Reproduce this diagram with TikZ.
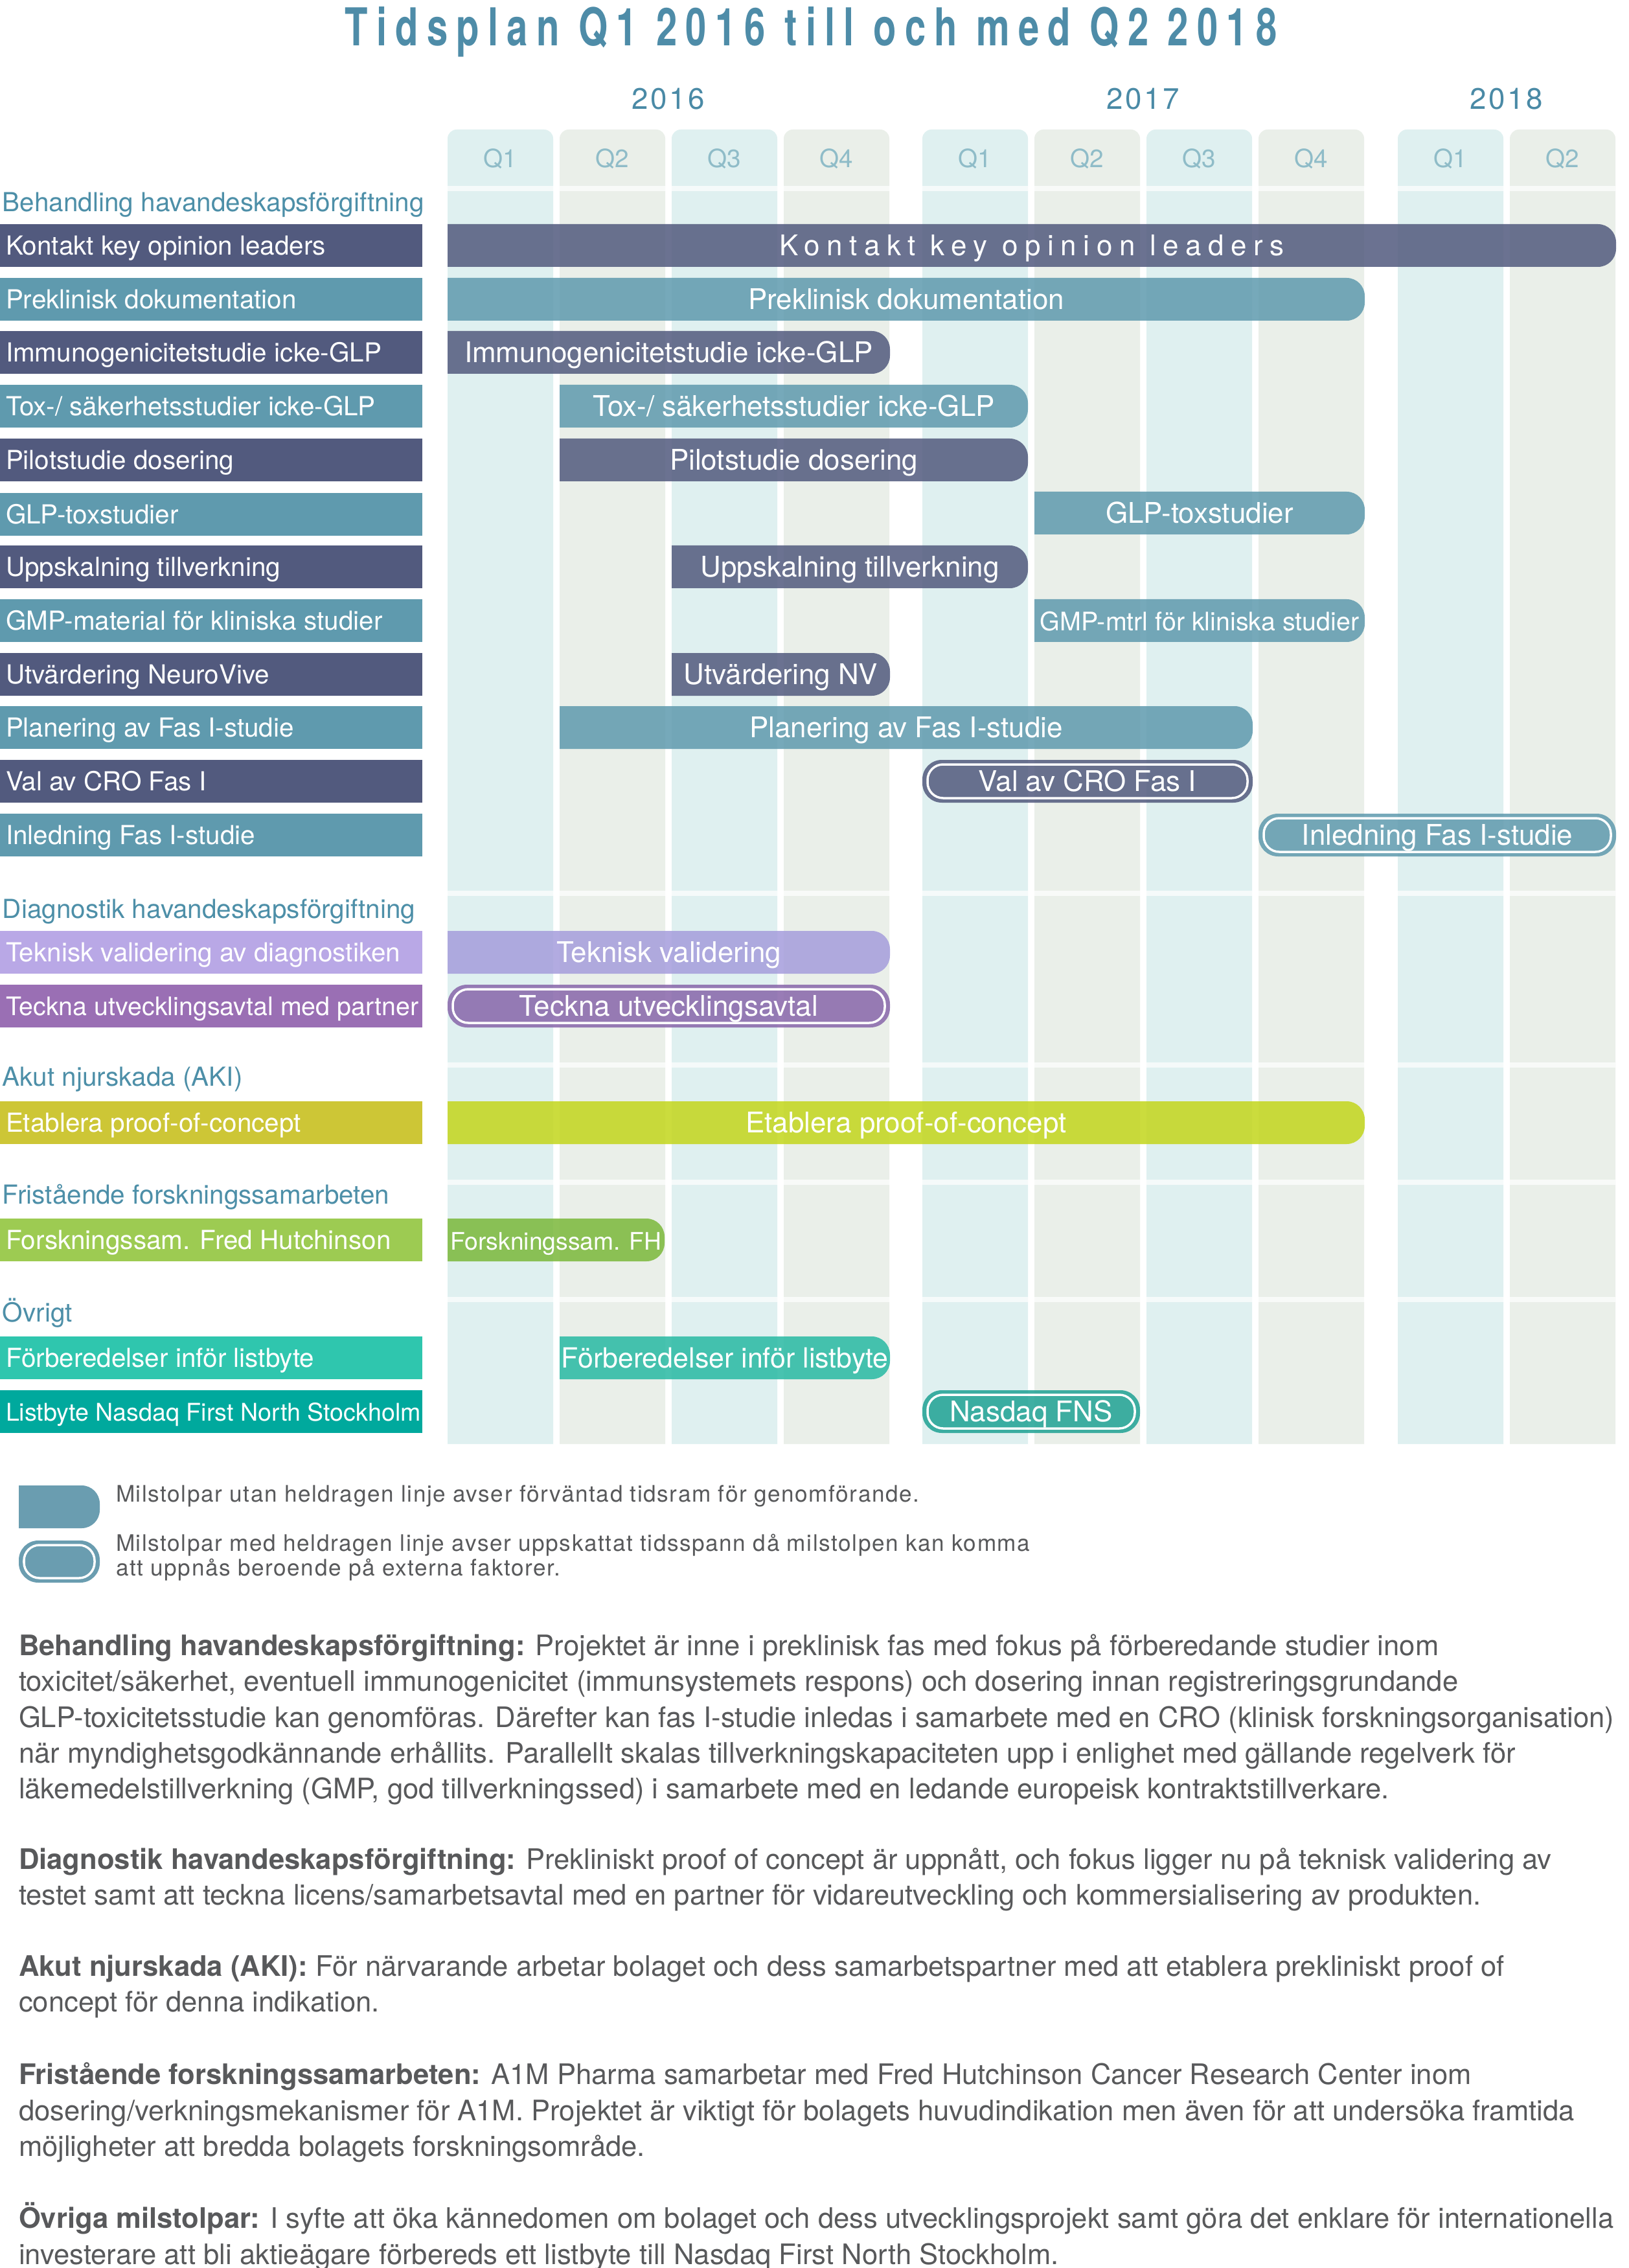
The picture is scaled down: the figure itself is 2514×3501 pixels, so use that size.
\documentclass[tikz,border=0pt]{standalone}
\usepackage{fontspec}
\setmainfont{TeX Gyre Heros}
\newfontfamily\titlefont[FakeStretch=0.72,LetterSpace=16.5]{TeX Gyre Heros}
\newfontfamily\spacedfont[LetterSpace=24]{TeX Gyre Heros}
\newfontfamily\yearfont[LetterSpace=8]{TeX Gyre Heros}
\newfontfamily\notefont[LetterSpace=4.5]{TeX Gyre Heros}
\usepackage{xcolor}
\usetikzlibrary{positioning}
\definecolor{titleblue}{HTML}{4E8CA8}
\definecolor{yearblue}{HTML}{4A8AA6}
\definecolor{qgrey}{HTML}{8FBCC8}
\definecolor{headblue}{HTML}{4D8FA8}
\definecolor{colA}{HTML}{DFF0F0}
\definecolor{colB}{HTML}{EAEFE9}
\definecolor{dkblue}{HTML}{525A7E}
\definecolor{ltblue}{HTML}{5F9AAE}
\definecolor{lavbox}{HTML}{B9A8E6}
\definecolor{lavbar}{HTML}{A59DDC}
\definecolor{purbox}{HTML}{9A6FB4}
\definecolor{purbar}{HTML}{8866AA}
\definecolor{olbox}{HTML}{CDC636}
\definecolor{olbar}{HTML}{C3D61C}
\definecolor{grbox}{HTML}{9DCB52}
\definecolor{grbar}{HTML}{7BB83A}
\definecolor{tqabox}{HTML}{2FC6AE}
\definecolor{tqabar}{HTML}{28B9A3}
\definecolor{tqbbox}{HTML}{00A99D}
\definecolor{tqbbar}{HTML}{1FA294}
\definecolor{legblue}{HTML}{6A9DB0}
\definecolor{bodygrey}{HTML}{58595B}

\begin{document}
\begin{tikzpicture}[x=0.01cm, y=-0.01cm,
    every node/.style={inner sep=0pt, outer sep=0pt},
    labelbox/.style={rectangle, anchor=west, minimum width=6.52cm, minimum height=0.66cm},
    labeltext/.style={text=white, text height=8.2pt, text depth=0pt, font=\fontsize{11.5}{13}\selectfont},
    bartext/.style={text=white, text height=8.9pt, text depth=0pt, font=\fontsize{12.5}{14}\selectfont},
    sechead/.style={anchor=west, text=headblue, text height=8.2pt, text depth=0pt, font=\fontsize{11.5}{13}\selectfont},
    qtext/.style={text=qgrey, text height=7.9pt, text depth=0pt, font=\fontsize{11}{13}\selectfont},
    yeartext/.style={text=yearblue, text height=9.4pt, text depth=0pt, font=\yearfont\fontsize{13}{15}\selectfont},
    notetext/.style={anchor=west, text=bodygrey, text height=7.2pt, text depth=0pt, font=\notefont\fontsize{10}{12}\selectfont},
    bodytext/.style={anchor=north west, align=left, text=bodygrey, font=\fontsize{12.4}{15.7}\selectfont},
    sepline/.style={white, opacity=.7, line width=.08cm}
]
\fill[white] (0,0) rectangle (2514,3501);
\useasboundingbox (0,0) rectangle (2514,3501);

\node[text=titleblue, text height=16.5pt, text depth=0pt, font=\titlefont\bfseries\fontsize{22.9}{26}\selectfont] (title) at (1252,42) {Tidsplan Q1 2016 till och med Q2 2018};

\foreach \xx/\cc/\q [count=\i] in {691/colA/Q1, 864/colB/Q2, 1037/colA/Q3, 1210/colB/Q4, 1424/colA/Q1, 1597/colB/Q2, 1770/colA/Q3, 1943/colB/Q4, 2158/colA/Q1, 2331/colB/Q2}{
  \fill[\cc] (\xx,2229) [rounded corners=.14cm] -- (\xx,200) -- (\xx+163,200) [sharp corners] -- (\xx+163,2229) -- cycle;
  \node[qtext] (q\i) at (\xx+81.5,245) {\q};
}
\foreach \yy in {291,1379,1644,1825,2006}
  \draw[sepline] (691,\yy) -- (2494,\yy);

\node[yeartext] (y2016) at (1032,152) {2016};
\node[yeartext] (y2017) at (1765,152) {2017};
\node[yeartext] (y2018) at (2326,152) {2018};

\node[sechead] (hbeh) at (4,312) {Behandling havandeskapsförgiftning};
\node[sechead] (hdia) at (4,1403) {Diagnostik havandeskapsförgiftning};
\node[sechead] (haki) at (4,1662) {Akut njurskada (AKI)};
\node[sechead] (hfri) at (4,1844) {Fristående forskningssamarbeten};
\node[sechead] (hovr) at (4,2026) {Övrigt};

\foreach \nm/\yy/\cc/\txt in {
    l1/379/dkblue/Kontakt key opinion leaders,
    l2/462/ltblue/Preklinisk dokumentation,
    l3/544/dkblue/Immunogenicitetstudie icke-GLP,
    l4/627/ltblue/{Tox-/ säkerhetsstudier icke-GLP},
    l5/710/dkblue/Pilotstudie dosering,
    l6/794/ltblue/GLP-toxstudier,
    l7/875/dkblue/Uppskalning tillverkning,
    l8/958/ltblue/GMP-material för kliniska studier,
    l9/1041/dkblue/Utvärdering NeuroVive,
    l10/1123/ltblue/Planering av Fas I-studie,
    l11/1206/dkblue/Val av CRO Fas I,
    l12/1289/ltblue/Inledning Fas I-studie,
    l13/1470/lavbox/Teknisk validering av diagnostiken,
    l14/1553/purbox/{\fontsize{11.2}{13}\selectfont Teckna utvecklingsavtal med partner},
    l15/1733/olbox/Etablera proof-of-concept,
    l16/1914/grbox/Forskningssam. Fred Hutchinson,
    l17/2096/tqabox/Förberedelser inför listbyte,
    l18/2179/tqbbox/{\fontsize{10.7}{13}\selectfont Listbyte Nasdaq First North Stockholm}}{
  \node[labelbox, fill=\cc] (\nm) at (0,\yy) {};
  \node[labeltext, right=0.09cm of \nm.west] (\nm t) {\txt};
}

\foreach \nm/\xa/\xb/\yy/\cc/\txt in {
    kol/691/2495/379/dkblue/{\spacedfont Kontakt key opinion leaders},
    prek/691/2107/462/ltblue/Preklinisk dokumentation,
    immu/691/1374/544/dkblue/Immunogenicitetstudie icke-GLP,
    tox/864/1587/627/ltblue/{Tox-/ säkerhetsstudier icke-GLP},
    pilot/864/1587/710/dkblue/Pilotstudie dosering,
    glp/1597/2107/792/ltblue/GLP-toxstudier,
    upps/1037/1587/875/dkblue/Uppskalning tillverkning,
    gmp/1597/2107/958/ltblue/{\fontsize{11.2}{13}\selectfont GMP-mtrl för kliniska studier},
    utv/1037/1374/1041/dkblue/Utvärdering NV,
    plan/864/1934/1123/ltblue/Planering av Fas I-studie,
    tekn/691/1374/1470/lavbar/Teknisk validering,
    etab/691/2107/1733/olbar/Etablera proof-of-concept,
    fhut/691/1026/1914/grbar/{\fontsize{10.6}{13}\selectfont Forskningssam. FH},
    forb/864/1374/2096/tqabar/{\fontsize{12.2}{14}\selectfont Förberedelser inför listbyte}}{
  \fill[\cc, fill opacity=.85] (\xa,\yy-33) [rounded corners=.28cm] -- (\xb,\yy-33) -- (\xb,\yy+33) [sharp corners] -- (\xa,\yy+33) -- cycle;
  \node[bartext] (\nm) at ({(\xa+\xb)/2},\yy) {\txt};
}

\foreach \nm/\xa/\xb/\yy/\cc/\txt in {
    cro/1424/1934/1206/dkblue/Val av CRO Fas I,
    inle/1943/2495/1289/ltblue/Inledning Fas I-studie,
    teck/691/1374/1553/purbar/Teckna utvecklingsavtal,
    nasd/1424/1760/2179/tqbbar/Nasdaq FNS}{
  \fill[\cc, fill opacity=.85, rounded corners=.3cm] (\xa,\yy-33) rectangle (\xb,\yy+33);
  \draw[white, line width=.035cm, rounded corners=.24cm] (\xa+8,\yy-26) rectangle (\xb-8,\yy+26);
  \node[bartext] (\nm) at ({(\xa+\xb)/2},\yy) {\txt};
}

\fill[legblue] (29,2293) [rounded corners=.28cm] -- (154,2293) -- (154,2359) [sharp corners] -- (29,2359) -- cycle;
\fill[legblue, rounded corners=.3cm] (29,2378) rectangle (154,2443);
\draw[white, line width=.035cm, rounded corners=.24cm] (37,2385) rectangle (146,2436);
\node[notetext] (n1) at (179,2306) {Milstolpar utan heldragen linje avser förväntad tidsram för genomförande.};
\node[notetext] (n2) at (179,2382) {Milstolpar med heldragen linje avser uppskattat tidsspann då milstolpen kan komma};
\node[notetext, below=0.38cm of n2.west, anchor=west] (n3) {att uppnås beroende på externa faktorer.};

\node[bodytext] (p1) at (29,2523) {\textbf{Behandling havandeskapsförgiftning:} Projektet är inne i preklinisk fas med fokus på förberedande studier inom\\
toxicitet/säkerhet, eventuell immunogenicitet (immunsystemets respons) och dosering innan registreringsgrundande\\
GLP-toxicitetsstudie kan genomföras. Därefter kan fas I-studie inledas i samarbete med en CRO (klinisk forskningsorganisation)\\
när myndighetsgodkännande erhållits. Parallellt skalas tillverkningskapaciteten upp i enlighet med gällande regelverk för\\
läkemedelstillverkning (GMP, god tillverkningssed) i samarbete med en ledande europeisk kontraktstillverkare.};
\node[bodytext] (p2) at (29,2853) {\textbf{Diagnostik havandeskapsförgiftning:} Prekliniskt proof of concept är uppnått, och fokus ligger nu på teknisk validering av\\
testet samt att teckna licens/samarbetsavtal med en partner för vidareutveckling och kommersialisering av produkten.};
\node[bodytext] (p3) at (29,3018) {\textbf{Akut njurskada (AKI):} För närvarande arbetar bolaget och dess samarbetspartner med att etablera prekliniskt proof of\\
concept för denna indikation.};
\node[bodytext] (p4) at (29,3184) {\textbf{Fristående forskningssamarbeten:} A1M Pharma samarbetar med Fred Hutchinson Cancer Research Center inom\\
dosering/verkningsmekanismer för A1M. Projektet är viktigt för bolagets huvudindikation men även för att undersöka framtida\\
möjligheter att bredda bolagets forskningsområde.};
\node[bodytext] (p5) at (29,3400) {\textbf{Övriga milstolpar:} I syfte att öka kännedomen om bolaget och dess utvecklingsprojekt samt göra det enklare för internationella\\
investerare att bli aktieägare förbereds ett listbyte till Nasdaq First North Stockholm.};
\end{tikzpicture}
\end{document}
